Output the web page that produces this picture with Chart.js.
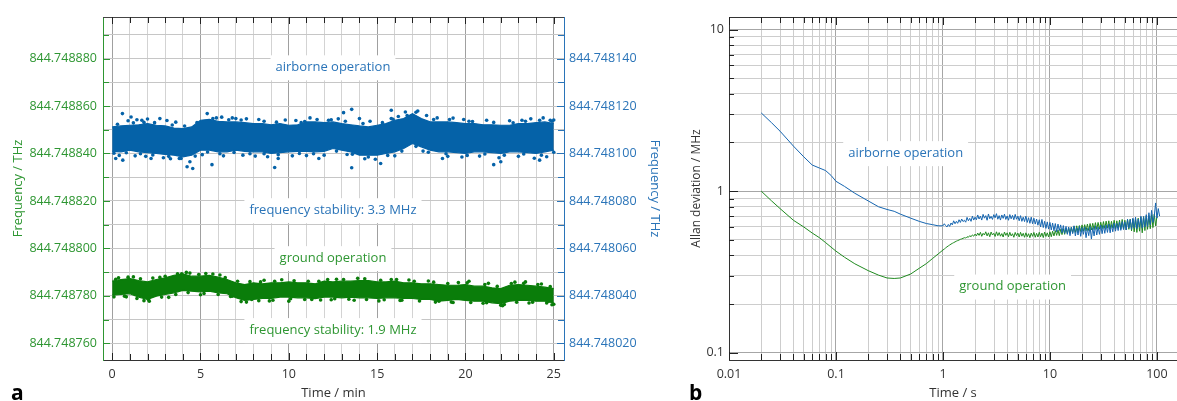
<!DOCTYPE html>
<html>
<head>
<meta charset="utf-8">
<script src="https://cdn.jsdelivr.net/npm/chart.js@4.4.1/dist/chart.umd.min.js"></script>
<style>
  body { margin: 0; background: #fff; }
  #wrap { position: relative; width: 1177px; height: 401px; overflow: hidden; font-family: 'Open Sans', sans-serif; }
  #chartA { position: absolute; left: 0; top: 0; }
  #chartB { position: absolute; left: 680px; top: 0; }
  .panel { position: absolute; font-size: 21px; line-height: 21px; font-weight: bold; color: #000; }
</style>
</head>
<body>
<div id="wrap">
  <canvas id="chartA" width="680" height="401"></canvas>
  <canvas id="chartB" width="497" height="401"></canvas>
  <div class="panel" style="left:11px; top:382px;">a</div>
  <div class="panel" style="left:689px; top:382px;">b</div>
</div>
<script>
//
// data
//

// panel a: time in minutes, band edges of the frequency records
// airborne values are MHz above 844.748000 THz on the right axis,
// ground values are MHz above 844.748000 THz on the left axis
const minutes = [0, 0.5, 1, 1.5, 2, 2.5, 3, 3.5, 4, 4.5, 5, 5.5, 6, 6.5, 7, 7.5, 8, 8.5, 9, 9.5,
    10, 10.5, 11, 11.5, 12, 12.5, 13, 13.5, 14, 14.5, 15, 15.5, 16, 16.5, 17, 17.5, 18, 18.5, 19, 19.5,
    20, 20.5, 21, 21.5, 22, 22.5, 23, 23.5, 24, 24.5, 25];
const airTop = [111.2, 111.6, 111.9, 112.1, 112.6, 111.9, 111.6, 110.7, 110.5, 111.2, 114.0, 114.4, 113.5, 113.3, 113.3, 113.0, 112.6, 112.6, 112.1, 112.6,
    111.9, 112.1, 113.3, 113.3, 113.0, 113.3, 112.6, 112.1, 111.6, 111.2, 111.9, 112.6, 114.0, 114.7, 116.8, 114.7, 113.3, 113.3, 113.3, 113.0,
    112.6, 112.6, 112.1, 112.1, 111.9, 111.9, 112.6, 112.6, 113.0, 113.3, 112.6];
const airBottom = [100.9, 100.7, 101.4, 100.7, 100.4, 100.0, 99.6, 99.3, 98.6, 99.3, 101.4, 101.4, 100.7, 100.7, 101.4, 100.9, 100.7, 100.7, 100.0, 100.4,
    100.7, 100.9, 100.9, 100.7, 100.9, 102.1, 101.4, 100.7, 99.3, 99.3, 99.3, 100.0, 100.7, 102.1, 104.2, 102.8, 101.4, 100.7, 100.7, 100.4,
    100.0, 100.7, 100.7, 100.4, 100.0, 100.7, 100.7, 100.4, 100.0, 100.7, 101.4];
const groundTop = [786.2, 786.9, 787.3, 786.5, 785.9, 786.9, 787.6, 788.7, 789.3, 788.3, 788.3, 788.7, 787.9, 786.9, 785.5, 784.8, 785.5, 785.1, 785.5, 785.5,
    785.9, 785.5, 785.5, 785.1, 786.2, 785.9, 786.2, 786.2, 786.5, 786.5, 785.9, 785.9, 786.2, 785.5, 785.5, 785.1, 785.1, 784.8, 784.5, 784.5,
    784.8, 784.1, 784.1, 783.4, 783.1, 784.5, 784.8, 784.5, 784.1, 783.7, 783.1];
const groundBottom = [780.3, 780.6, 780.9, 779.5, 778.5, 779.9, 780.6, 781.3, 782.3, 782.0, 781.7, 782.0, 781.3, 780.9, 779.2, 778.1, 778.5, 778.9, 778.9, 779.5,
    779.5, 779.2, 779.2, 778.9, 779.5, 779.5, 779.2, 779.5, 779.2, 779.2, 778.9, 779.2, 779.2, 778.9, 778.9, 778.5, 778.5, 777.8, 778.1, 778.5,
    778.1, 777.8, 777.8, 777.1, 776.7, 777.8, 778.1, 778.1, 777.8, 777.8, 777.1];

// readings sitting just outside the dense bands
const airEdgeT = [0.3, 1.2, 1.8, 2.4, 3.4, 4.1, 4.8, 5.9, 6.6, 7.3, 8.6, 9.3, 10.7, 11.6, 12.4, 13.2, 14.2, 15.3, 15.9, 16.7, 17.2, 18.2, 19.1, 20.2, 21.6, 22.7, 23.4, 24.2, 24.9,
    0.1, 0.8, 1.6, 2.3, 3.2, 3.9, 4.7, 5.4, 6.1, 6.9, 7.8, 8.6, 9.4, 10.6, 11.4, 12.7, 13.6, 14.5, 15.6, 16.4, 17.2, 17.9, 18.9, 20.1, 21.1, 22.2, 23.3, 24.3, 25.0];
const airEdgeV = [112.3, 112.9, 113.1, 113.0, 112.0, 111.6, 113.0, 115.0, 114.2, 114.1, 113.6, 113.2, 113.0, 114.3, 114.2, 113.6, 112.6, 113.0, 114.4, 116.0, 117.4, 114.3, 114.3, 113.6, 113.1, 112.9, 113.6, 114.0, 113.6,
    100.1, 100.3, 99.9, 99.4, 98.8, 97.9, 98.9, 100.6, 99.9, 100.4, 99.9, 99.9, 99.5, 100.0, 99.9, 101.0, 99.7, 98.5, 99.2, 101.0, 103.0, 100.5, 99.9, 99.2, 99.8, 99.3, 99.8, 99.3, 100.5];
const groundEdgeT = [0.2, 0.9, 1.6, 2.3, 3.0, 3.7, 4.2, 4.9, 5.7, 6.4, 7.1, 7.8, 8.4, 9.2, 10.3, 11.1, 12.2, 13.1, 14.3, 15.2, 16.1, 17.1, 18.2, 19.0, 20.1, 21.1, 21.8, 22.6, 23.3, 24.1, 24.8,
    0.1, 0.7, 1.4, 2.1, 2.8, 3.6, 4.3, 5.2, 6.0, 6.8, 7.6, 8.3, 9.1, 10.1, 10.9, 11.8, 12.6, 13.4, 14.4, 15.4, 16.4, 17.4, 18.3, 19.2, 20.3, 21.2, 22.0, 22.9, 23.8, 24.6, 25.0];
const groundEdgeV = [787.0, 787.9, 787.2, 787.5, 788.3, 789.3, 789.9, 789.0, 789.2, 787.7, 786.2, 786.0, 785.9, 786.2, 786.4, 786.2, 786.9, 786.9, 787.2, 786.6, 786.9, 786.2, 785.8, 785.2, 785.5, 784.8, 784.0, 785.2, 785.3, 784.8, 783.9,
    779.6, 779.9, 778.9, 777.8, 779.5, 780.6, 781.4, 781.0, 780.6, 779.9, 777.4, 778.0, 778.2, 778.8, 778.5, 778.3, 778.8, 778.6, 778.5, 778.4, 778.2, 777.9, 777.4, 777.4, 777.2, 777.1, 776.1, 777.3, 777.3, 777.0, 776.5];

// scattered single readings further out
const airDotsT = [0.2, 0.58, 0.6, 1.07, 1.68, 2.2, 2.7, 3.8, 4.24, 4.4, 4.56, 5.38, 5.65, 5.7, 7.0, 9.2, 9.4, 10.9, 11.7, 12.25,
    13.1, 13.56, 13.56, 14.0, 15.2, 15.8, 15.8, 16.6, 18.7, 20.4, 21.6, 22.0, 23.2, 24.2, 24.8,
    0.9, 1.4, 2.0, 3.1, 3.6, 6.2, 6.8, 7.6, 8.3, 9.8, 10.4, 11.2, 12.8, 14.6, 16.2, 17.3, 17.8, 18.4, 19.3, 19.9,
    21.2, 22.5, 23.7, 24.4, 25.0,
    0.4, 1.3, 1.9, 2.9, 3.3, 5.1, 6.3, 7.4, 8.1, 8.8, 10.2, 11.0, 12.0, 13.3, 14.3, 14.9, 16.0, 17.6, 19.0, 19.8,
    20.8, 21.9, 23.0, 23.9, 24.6];
const airDotsV = [97.9, 116.8, 97.2, 115.4, 114.0, 97.9, 114.7, 97.9, 94.4, 96.5, 93.7, 116.8, 95.3, 114.7, 114.7, 94.1, 97.9, 113.5, 97.9, 114.0,
    117.2, 118.6, 94.0, 114.7, 95.8, 118.2, 114.7, 117.5, 97.9, 113.5, 95.3, 96.5, 114.0, 97.2, 114.0,
    113.8, 114.2, 114.5, 113.9, 113.2, 115.3, 115.0, 114.6, 114.3, 114.1, 113.9, 115.0, 114.6, 113.6, 115.6, 117.9, 116.0, 115.0, 114.9, 114.3,
    114.0, 113.8, 114.6, 115.0, 114.1,
    99.2, 99.0, 98.8, 98.2, 97.8, 99.5, 99.0, 99.3, 98.9, 98.6, 99.0, 99.1, 99.3, 99.6, 97.8, 97.6, 99.0, 101.0, 98.8, 98.5,
    98.9, 98.2, 98.8, 98.0, 98.6];
const groundDotsT = [0.36, 2.05, 3.94, 7.9, 10.0, 11.3, 11.7, 15.8, 18.5, 20.2, 22.2, 23.4, 24.7,
    1.2, 2.7, 4.4, 5.3, 6.1, 8.6, 9.6, 12.7, 13.9, 16.8, 17.9, 19.6, 21.3, 22.8, 24.3,
    0.8, 1.8, 3.2, 5.0, 6.7, 7.3, 8.9, 12.4, 13.7, 15.1, 16.3, 19.3, 21.0, 22.1, 23.6, 24.9];
const groundDotsV = [787.6, 778.5, 789.3, 778.5, 777.8, 778.5, 786.2, 786.9, 777.8, 786.2, 776.4, 785.9, 777.8,
    788.0, 787.8, 789.6, 789.4, 788.8, 786.6, 786.8, 787.0, 787.4, 786.7, 786.3, 785.6, 785.3, 785.8, 785.0,
    779.6, 778.0, 779.4, 780.5, 779.8, 777.6, 777.9, 778.4, 778.2, 777.9, 778.1, 777.2, 776.9, 775.9, 777.0, 776.3];

// axis labels of panel a
const freqPrefix = '844.748';
const leftTicks = [760, 780, 800, 820, 840, 860, 880];
const rightTicks = [20, 40, 60, 80, 100, 120, 140];
const minuteTicks = [0, 5, 10, 15, 20, 25];

// panel b: averaging time in s and Allan deviation in MHz
const allanTau = [0.02, 0.025, 0.03, 0.04, 0.05, 0.06, 0.07, 0.08, 0.09, 0.1, 0.12, 0.15, 0.2, 0.25, 0.3, 0.35, 0.4, 0.5, 0.6, 0.7, 0.8, 0.9,
    1.000, 1.029, 1.059, 1.090, 1.122, 1.155, 1.189, 1.223, 1.259, 1.296, 1.334, 1.372, 1.413, 1.454, 1.496, 1.540, 1.585, 1.631, 1.679, 1.728,
    1.778, 1.830, 1.884, 1.939, 1.995, 2.054, 2.113, 2.175, 2.239, 2.304, 2.371, 2.441, 2.512, 2.585, 2.661, 2.738, 2.818, 2.901, 2.985, 3.073,
    3.162, 3.255, 3.350, 3.447, 3.548, 3.652, 3.758, 3.868, 3.981, 4.097, 4.217, 4.340, 4.467, 4.597, 4.732, 4.870, 5.012, 5.158, 5.309, 5.464,
    5.623, 5.788, 5.957, 6.131, 6.310, 6.494, 6.683, 6.879, 7.079, 7.286, 7.499, 7.718, 7.943, 8.175, 8.414, 8.660, 8.913, 9.173, 9.441, 9.716,
    10.00, 10.29, 10.59, 10.90, 11.22, 11.55, 11.89, 12.23, 12.59, 12.96, 13.34, 13.72, 14.13, 14.54, 14.96, 15.40, 15.85, 16.31, 16.79, 17.28,
    17.78, 18.30, 18.84, 19.39, 19.95, 20.54, 21.13, 21.75, 22.39, 23.04, 23.71, 24.41, 25.12, 25.85, 26.61, 27.38, 28.18, 29.01, 29.85, 30.73,
    31.62, 32.55, 33.50, 34.47, 35.48, 36.52, 37.58, 38.68, 39.81, 40.97, 42.17, 43.40, 44.67, 45.97, 47.32, 48.70, 50.12, 51.58, 53.09, 54.64,
    56.23, 57.88, 59.57, 61.31, 63.10, 64.94, 66.83, 68.79, 70.79, 72.86, 74.99, 77.18, 79.43, 81.75, 84.14, 86.60, 89.13, 91.73, 94.41, 97.16,
    100.0, 102.9, 105.9];
const airAllan = [3.05, 2.65, 2.35, 1.90, 1.63, 1.45, 1.39, 1.34, 1.25, 1.15, 1.07, 0.97, 0.87, 0.80, 0.77, 0.75, 0.72, 0.68, 0.65, 0.63, 0.62, 0.61,
    0.610, 0.628, 0.612, 0.600, 0.622, 0.605, 0.635, 0.618,
    0.655, 0.628, 0.650, 0.632, 0.665, 0.640, 0.672, 0.648, 0.660, 0.642, 0.688, 0.655, 0.678, 0.650, 0.700, 0.662, 0.690,
    0.665, 0.712, 0.672, 0.700, 0.662, 0.718, 0.680, 0.705, 0.660, 0.722, 0.675, 0.698, 0.668, 0.715, 0.684, 0.725,
    0.670, 0.705, 0.662, 0.712, 0.678, 0.720, 0.668, 0.702, 0.660, 0.716, 0.674, 0.708, 0.665, 0.718, 0.670, 0.700,
    0.655, 0.705, 0.650, 0.690, 0.648, 0.700, 0.640, 0.685, 0.632, 0.690, 0.628,
    0.680, 0.625, 0.672, 0.615, 0.665, 0.600, 0.668, 0.595, 0.650, 0.588, 0.645, 0.582,
    0.640, 0.575, 0.635, 0.568, 0.630, 0.560, 0.625, 0.570, 0.618, 0.552, 0.612, 0.548,
    0.605, 0.540, 0.600, 0.530, 0.598, 0.545, 0.610, 0.528, 0.592, 0.535, 0.605, 0.525, 0.595, 0.540,
    0.600, 0.515, 0.588, 0.530, 0.602, 0.505, 0.595, 0.528, 0.610, 0.535, 0.600, 0.540, 0.615, 0.545,
    0.612, 0.548, 0.618, 0.555, 0.625, 0.552, 0.620, 0.560, 0.635, 0.565, 0.630, 0.570, 0.642, 0.572, 0.648, 0.578, 0.645,
    0.575, 0.670, 0.590, 0.668, 0.580, 0.680, 0.592, 0.690, 0.585, 0.672, 0.598, 0.700, 0.590, 0.695, 0.600, 0.715,
    0.605, 0.735, 0.620, 0.760, 0.640, 0.700, 0.845, 0.680,
    0.780, 0.700];
const groundAllan = [1.00, 0.87, 0.78, 0.66, 0.60, 0.55, 0.515, 0.48, 0.45, 0.425, 0.39, 0.355, 0.322, 0.302, 0.29, 0.288, 0.29, 0.307, 0.333, 0.356, 0.383, 0.408,
    0.432, 0.438, 0.445, 0.452, 0.458, 0.464, 0.470, 0.475, 0.480, 0.485, 0.490, 0.494, 0.498, 0.503, 0.506, 0.510, 0.515, 0.512, 0.522, 0.518,
    0.530, 0.522, 0.536, 0.526, 0.542,
    0.528, 0.550, 0.532, 0.556, 0.525, 0.548, 0.535, 0.560, 0.528, 0.552, 0.522, 0.558, 0.535, 0.548, 0.524, 0.560, 0.530, 0.554, 0.526, 0.546,
    0.520, 0.558, 0.532, 0.552, 0.522, 0.556, 0.528, 0.545, 0.518, 0.555, 0.530, 0.550, 0.520, 0.556, 0.526, 0.548, 0.518, 0.552, 0.522, 0.545,
    0.515, 0.550, 0.525, 0.555, 0.518, 0.548, 0.520, 0.556, 0.522, 0.550, 0.516, 0.558, 0.524, 0.552, 0.520,
    0.560, 0.522, 0.565, 0.528, 0.570, 0.532, 0.575, 0.530, 0.580, 0.538, 0.585, 0.540, 0.590, 0.545, 0.592, 0.548, 0.598, 0.552, 0.605, 0.555,
    0.610, 0.558, 0.612, 0.562, 0.618, 0.565, 0.620, 0.568, 0.625, 0.570, 0.630, 0.575, 0.632, 0.578, 0.638, 0.580, 0.640, 0.582, 0.642, 0.585,
    0.648, 0.588, 0.652, 0.590, 0.655, 0.585, 0.650, 0.592, 0.660, 0.585, 0.655, 0.590, 0.662, 0.582, 0.668, 0.588, 0.660, 0.575, 0.665, 0.580,
    0.670, 0.568, 0.672, 0.560, 0.668, 0.555, 0.680, 0.565, 0.690, 0.552, 0.695, 0.570, 0.700, 0.580, 0.705, 0.585, 0.715, 0.595, 0.720, 0.610,
    0.700];

// axis labels of panel b
const tauDecades = [0.01, 0.1, 1, 10, 100];
const tauLabels = ['0.01', '0.1', '1', '10', '100'];
const devDecades = [0.1, 1, 10];
const devLabels = ['0.1', '1', '10'];

//
// styling
//
const greenText = '#2e9632';
const blueText = '#2a74b8';
const greenDot = '#0a7d0a';
const blueDot = '#0562a8';
const ink = '#333333';

Chart.defaults.font.family = "'Open Sans', sans-serif";
Chart.defaults.font.size = 12.5;
Chart.defaults.color = ink;

// helpers
const pts = (xs, ys) => ys.map((y, i) => ({x: xs[i], y: y}));
const steps = (from, to, step) => {
    let out = [];
    for (let v = from; v <= to + 1e-9; v += step) out.push(Math.round(v * 1000) / 1000);
    return out;
};
const logGrid = (decades, max) => {
    let out = [];
    decades.forEach(d => { for (let k = 1; k <= 9; k++) if (d * k <= max) out.push(d * k); });
    return out;
};
const isDecade = v => Math.abs(Math.log10(v) - Math.round(Math.log10(v))) < 1e-6;
const pick = (v, values, labels) => {
    const i = values.findIndex(d => Math.abs(v / d - 1) < 1e-6);
    return i < 0 ? '' : labels[i];
};
const fmtFreq = v => freqPrefix + String(v).padStart(3, '0');
const dots = (xs, ys, axis, colour) => ({
    data: pts(xs, ys),
    yAxisID: axis,
    showLine: false,
    pointRadius: 1.8,
    pointBorderWidth: 0,
    pointBackgroundColor: colour
});

// text boxes and inward tick marks, drawn through the chart's own scales
const decor = {
    id: 'decor',
    afterDatasetsDraw(chart, args, opts) {
        const ctx = chart.ctx;
        (opts.notes || []).forEach(n => {
            const px = chart.scales.x.getPixelForValue(n.x);
            const py = chart.scales[n.axis].getPixelForValue(n.y);
            ctx.save();
            ctx.font = "13px 'Open Sans', sans-serif";
            const w = ctx.measureText(n.text).width;
            ctx.fillStyle = '#ffffff';
            ctx.fillRect(px - w / 2 - 5, py - 12, w + 10, 25);
            ctx.fillStyle = n.color;
            ctx.textAlign = 'center';
            ctx.textBaseline = 'middle';
            ctx.fillText(n.text, px, py);
            ctx.restore();
        });
    },
    afterDraw(chart, args, opts) {
        const ctx = chart.ctx;
        const a = chart.chartArea;
        ctx.save();
        ctx.lineWidth = 1;
        ctx.strokeStyle = opts.topColor;
        ctx.beginPath();
        ctx.moveTo(a.left, Math.round(a.top) + 0.5);
        ctx.lineTo(a.right, Math.round(a.top) + 0.5);
        ctx.stroke();
        (opts.marks || []).forEach(m => {
            const sc = chart.scales[m.scale];
            ctx.strokeStyle = m.color;
            m.values.forEach(v => {
                const p = Math.round(sc.getPixelForValue(v)) + 0.5;
                const len = m.major(v) ? m.long : m.short;
                ctx.beginPath();
                if (m.edge === 'bottom') { ctx.moveTo(p, a.bottom); ctx.lineTo(p, a.bottom - len); }
                if (m.edge === 'top') { ctx.moveTo(p, a.top); ctx.lineTo(p, a.top + len); }
                if (m.edge === 'left') { ctx.moveTo(a.left, p); ctx.lineTo(a.left + len, p); }
                if (m.edge === 'right') { ctx.moveTo(a.right, p); ctx.lineTo(a.right - len, p); }
                ctx.stroke();
            });
        });
        ctx.restore();
    }
};

//
// panel a
//
const minuteGrid = steps(0, 25, 1);
const leftGrid = steps(760, 890, 10);
const rightGrid = steps(20, 150, 10);

new Chart(document.getElementById('chartA'), {
    type: 'line',
    data: {
        datasets: [{
            data: pts(minutes, airTop),
            yAxisID: 'yR',
            borderColor: blueDot,
            borderWidth: 1.2,
            pointRadius: 0,
            fill: false
        }, {
            data: pts(minutes, airBottom),
            yAxisID: 'yR',
            borderColor: blueDot,
            backgroundColor: blueDot,
            borderWidth: 1.2,
            pointRadius: 0,
            fill: '-1'
        },
        dots(airEdgeT, airEdgeV, 'yR', blueDot),
        dots(airDotsT, airDotsV, 'yR', blueDot),
        {
            data: pts(minutes, groundTop),
            yAxisID: 'yL',
            borderColor: greenDot,
            borderWidth: 1.2,
            pointRadius: 0,
            fill: false
        }, {
            data: pts(minutes, groundBottom),
            yAxisID: 'yL',
            borderColor: greenDot,
            backgroundColor: greenDot,
            borderWidth: 1.2,
            pointRadius: 0,
            fill: '-1'
        },
        dots(groundEdgeT, groundEdgeV, 'yL', greenDot),
        dots(groundDotsT, groundDotsV, 'yL', greenDot)]
    },
    options: {
        responsive: false,
        animation: false,
        layout: {padding: {top: 17, left: 0, right: 0, bottom: 0}},
        plugins: {
            legend: {display: false},
            tooltip: {enabled: false},
            decor: {
                topColor: '#444444',
                notes: [
                    {text: 'airborne operation', x: 12.5, y: 876.3, axis: 'yL', color: blueText},
                    {text: 'frequency stability: 3.3 MHz', x: 12.5, y: 816.1, axis: 'yL', color: blueText},
                    {text: 'ground operation', x: 12.5, y: 795.9, axis: 'yL', color: greenText},
                    {text: 'frequency stability: 1.9 MHz', x: 12.5, y: 765.6, axis: 'yL', color: greenText}
                ],
                marks: [
                    {scale: 'x', edge: 'bottom', values: minuteGrid, major: v => v % 5 === 0, short: 6, long: 7, color: '#222222'},
                    {scale: 'x', edge: 'top', values: minuteGrid, major: v => v % 5 === 0, short: 6, long: 7, color: '#222222'},
                    {scale: 'yL', edge: 'left', values: leftGrid, major: v => v % 20 === 0, short: 6, long: 7, color: greenText},
                    {scale: 'yR', edge: 'right', values: rightGrid, major: v => v % 20 === 0, short: 6, long: 7, color: blueText}
                ]
            }
        },
        scales: {
            x: {
                type: 'linear',
                min: -0.52,
                max: 25.58,
                afterBuildTicks: ax => { ax.ticks = minuteGrid.map(v => ({value: v})); },
                afterFit: ax => { ax.height = 41; },
                grid: {color: c => (c.tick && c.tick.value % 5 === 0) ? '#a0a0a0' : '#d3d3d3', drawTicks: false},
                border: {color: '#333333'},
                ticks: {
                    autoSkip: false, maxRotation: 0, padding: 7, color: ink,
                    callback: v => minuteTicks.includes(v) ? String(v) : ''
                },
                title: {display: true, text: 'Time / min', color: ink, font: {size: 13}, padding: {top: 0, bottom: 0}}
            },
            yL: {
                position: 'left',
                min: 753,
                max: 897.5,
                afterBuildTicks: ax => { ax.ticks = leftGrid.map(v => ({value: v})); },
                afterFit: ax => { ax.width = 103; },
                grid: {color: '#c6c6c6', drawTicks: false},
                border: {color: greenText},
                ticks: {
                    autoSkip: false, padding: 6, color: greenText,
                    callback: v => leftTicks.includes(v) ? fmtFreq(v) : ''
                },
                title: {display: true, text: 'Frequency / THz', color: greenText, font: {size: 13}, padding: {top: 10, bottom: 0}}
            },
            yR: {
                position: 'right',
                min: 13,
                max: 157.5,
                afterBuildTicks: ax => { ax.ticks = rightGrid.map(v => ({value: v})); },
                afterFit: ax => { ax.width = 116; },
                grid: {drawOnChartArea: false, drawTicks: false},
                border: {color: blueText},
                ticks: {
                    autoSkip: false, padding: 5, color: blueText,
                    callback: v => rightTicks.includes(v) ? fmtFreq(v) : ''
                },
                title: {display: true, text: 'Frequency / THz', color: blueText, font: {size: 13}, padding: {top: 17, bottom: 0}}
            }
        }
    },
    plugins: [decor]
});

//
// panel b
//
const tauGrid = logGrid(tauDecades, 154);
const devGrid = logGrid(devDecades, 11.9);

new Chart(document.getElementById('chartB'), {
    type: 'line',
    data: {
        datasets: [{
            data: pts(allanTau, airAllan),
            borderColor: '#1565b0',
            borderWidth: 1,
            pointRadius: 0,
            tension: 0,
            fill: false
        }, {
            data: pts(allanTau, groundAllan),
            borderColor: '#1f8a1f',
            borderWidth: 1,
            pointRadius: 0,
            tension: 0,
            fill: false
        }]
    },
    options: {
        responsive: false,
        animation: false,
        layout: {padding: {top: 17, left: 0, right: 0, bottom: 0}},
        plugins: {
            legend: {display: false},
            tooltip: {enabled: false},
            decor: {
                topColor: '#333333',
                notes: [
                    {text: 'airborne operation', x: 0.448, y: 1.718, axis: 'y', color: blueText},
                    {text: 'ground operation', x: 4.48, y: 0.2567, axis: 'y', color: greenText}
                ],
                marks: [
                    {scale: 'x', edge: 'bottom', values: tauGrid, major: isDecade, short: 6, long: 8, color: '#222222'},
                    {scale: 'x', edge: 'top', values: tauGrid, major: isDecade, short: 6, long: 8, color: '#222222'},
                    {scale: 'y', edge: 'left', values: devGrid, major: isDecade, short: 5, long: 9, color: '#222222'}
                ]
            }
        },
        scales: {
            x: {
                type: 'logarithmic',
                min: 0.01,
                max: 154,
                afterBuildTicks: ax => { ax.ticks = tauGrid.map(v => ({value: v})); },
                afterFit: ax => { ax.height = 41; },
                grid: {color: c => (c.tick && isDecade(c.tick.value)) ? '#a6a6a6' : '#cdcdcd', drawTicks: false},
                border: {color: '#333333'},
                ticks: {
                    autoSkip: false, maxRotation: 0, padding: 7, color: ink,
                    callback: v => pick(v, tauDecades, tauLabels)
                },
                title: {display: true, text: 'Time / s', color: ink, font: {size: 13}, padding: {top: 0, bottom: 0}}
            },
            y: {
                type: 'logarithmic',
                min: 0.0901,
                max: 11.96,
                afterBuildTicks: ax => { ax.ticks = devGrid.map(v => ({value: v})); },
                afterFit: ax => { ax.width = 49; },
                grid: {color: c => (c.tick && isDecade(c.tick.value)) ? '#a6a6a6' : '#cdcdcd', drawTicks: false},
                border: {color: '#333333'},
                ticks: {
                    autoSkip: false, padding: 5, color: ink,
                    callback: v => pick(v, devDecades, devLabels)
                },
                title: {display: true, text: 'Allan deviation / MHz', color: ink, font: {size: 12}, padding: {top: 9, bottom: 0}}
            }
        }
    },
    plugins: [decor]
});
</script>
</body>
</html>
